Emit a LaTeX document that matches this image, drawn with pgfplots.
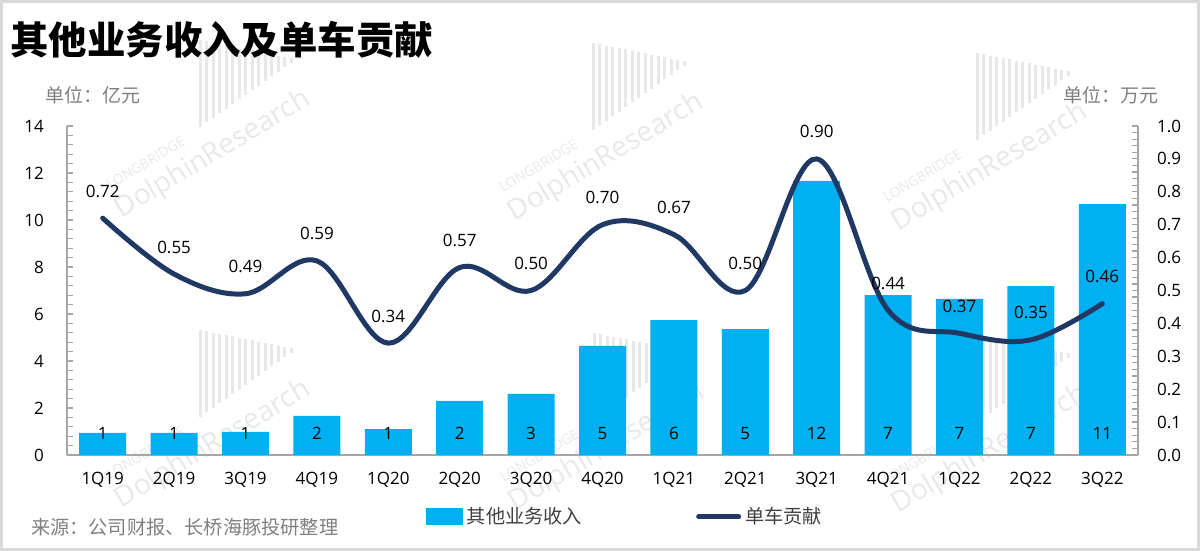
\documentclass[border=0pt]{standalone}
\usepackage{fontspec}
\setmainfont{Open Sans}
\newfontfamily\cjk{Noto Sans CJK SC}
\usepackage{pgfplots}
\usepackage{pgfplotstable}
\pgfplotsset{compat=1.18}

\definecolor{barblue}{HTML}{00B0F0}
\definecolor{navy}{HTML}{1F3864}
\definecolor{axgray}{HTML}{A6A6A6}
\definecolor{txtgray}{HTML}{7F7F7F}
\definecolor{wmgray}{HTML}{E8E8E8}

% revenue in 100m CNY, contribution per car in 10k CNY
\pgfplotstableread{
x lab  rev   contrib
0  1Q19 0.94  0.72
1  2Q19 0.94  0.55
2  3Q19 0.98  0.49
3  4Q19 1.66  0.59
4  1Q20 1.10  0.34
5  2Q20 2.30  0.57
6  3Q20 2.60  0.50
7  4Q20 4.64  0.70
8  1Q21 5.74  0.67
9  2Q21 5.36  0.50
10 3Q21 11.66 0.90
11 4Q21 6.80  0.44
12 1Q22 6.64  0.37
13 2Q22 7.19  0.35
14 3Q22 10.68 0.46
}\data

\pgfplotsset{
  base/.style={
    scale only axis, width=535.5pt, height=164.5pt,
    at={(33.5pt,48pt)}, anchor=south west,
    xmin=-0.5, xmax=14.5,
    font=\fontsize{8.5}{10}\selectfont,
    /pgf/number format/assume math mode=true,
    axis line style={axgray, line width=0.8pt},
    tick align=inside, major tick length=3pt, minor tick length=3pt,
    y tick style={axgray, line width=0.6pt},
    minor y tick num=4,
  }
}

% watermark, centre given in pixels of the 1200x551 image
\newcommand\wm[2]{%
  \begin{scope}[shift={({0.5*#1*1pt},{0.5*(551-#2)*1pt})}]
    \node[rotate=31, text=wmgray, font=\fontsize{14}{14}\selectfont] at (0,0) {DolphinResearch};
    \begin{scope}[rotate=31]
      \node[rotate=31, text=wmgray, font=\fontsize{7}{8}\selectfont] at (-31pt,14pt) {LONGBRIDGE};
    \end{scope}
    \foreach \i in {0,...,14}
      \draw[wmgray, line width=1.5pt] ({(-6.5+3.25*\i)*1pt},{(57.5-0.65*\i)*1pt}) -- ({(-6.5+3.25*\i)*1pt},{(14+2.3*\i)*1pt});
  \end{scope}}

\begin{document}
\begin{tikzpicture}
\useasboundingbox (0,0) rectangle (600pt,275.5pt);

\wm{213}{155}
\wm{606}{158}
\wm{990}{168}
\wm{213}{445}
\wm{607}{448}
\wm{990}{450}

\begin{axis}[base,
  ymin=0, ymax=14, ytick={0,2,...,14},
  axis y line*=left, axis x line*=bottom,
  xtick={0,...,14}, xticklabels from table={\data}{lab},
  x tick style={draw=none},
  xticklabel style={yshift=-5pt},
  yticklabel style={xshift=-8pt},
]
\addplot[ybar, bar width=23.5pt, fill=barblue, draw=none,
  point meta=y,
  visualization depends on={y \as \rawy},
  nodes near coords={\pgfmathprintnumber[fixed,precision=0]{\pgfplotspointmeta}},
  every node near coord/.append style={shift={(axis direction cs:0,-\rawy)},
    anchor=base, yshift=7.5pt, text=black, font=\fontsize{8.5}{10}\selectfont}]
  table[x=x, y=rev] {\data};
\end{axis}

\begin{axis}[base,
  ymin=0, ymax=1, ytick={0,0.1,...,1.0},
  yticklabel style={/pgf/number format/.cd, fixed, precision=1, zerofill, /tikz/.cd, xshift=6pt},
  axis y line*=right, axis x line=none, xtick=\empty,
  legend columns=2,
  legend style={draw=none, fill=none, at={(0.522,-0.188)}, anchor=center,
    font=\cjk\fontsize{9.6}{11}\selectfont, text=black!75,
    /tikz/every even column/.append style={column sep=55pt}},
]
\addlegendimage{legend image code/.code={\fill[barblue] (0pt,-4pt) rectangle (18pt,4pt);}}
\addlegendentry{其他业务收入}
\addplot[navy, line width=2.5pt, line cap=round, smooth, tension=0.6, mark=none,
  point meta=y,
  nodes near coords={\pgfmathprintnumber[fixed,precision=2,zerofill]{\pgfplotspointmeta}},
  every node near coord/.append style={anchor=center, yshift=13.5pt, text=black, font=\fontsize{8.5}{10}\selectfont},
  legend image code/.code={\draw[navy, line width=2.5pt, line cap=round] (0pt,0pt) -- (20pt,0pt);}]
  table[x=x, y=contrib] {\data};
\addlegendentry{单车贡献}
\end{axis}

\node[anchor=west, inner sep=0pt, font=\cjk\bfseries\fontsize{19.2}{22}\selectfont] at (5pt,255.5pt) {其他业务收入及单车贡献};
\node[anchor=west, text=txtgray, font=\cjk\fontsize{9.5}{11}\selectfont] at (19pt,228pt) {单位：亿元};
\node[anchor=east, text=txtgray, font=\cjk\fontsize{9.5}{11}\selectfont] at (583pt,228pt) {单位：万元};
\node[anchor=west, text=txtgray, font=\cjk\fontsize{9.6}{11}\selectfont] at (12pt,12pt) {来源：公司财报、长桥海豚投研整理};

\draw[black!15, line width=3pt] (0,0) rectangle (600pt,275.5pt);
\end{tikzpicture}
\end{document}
